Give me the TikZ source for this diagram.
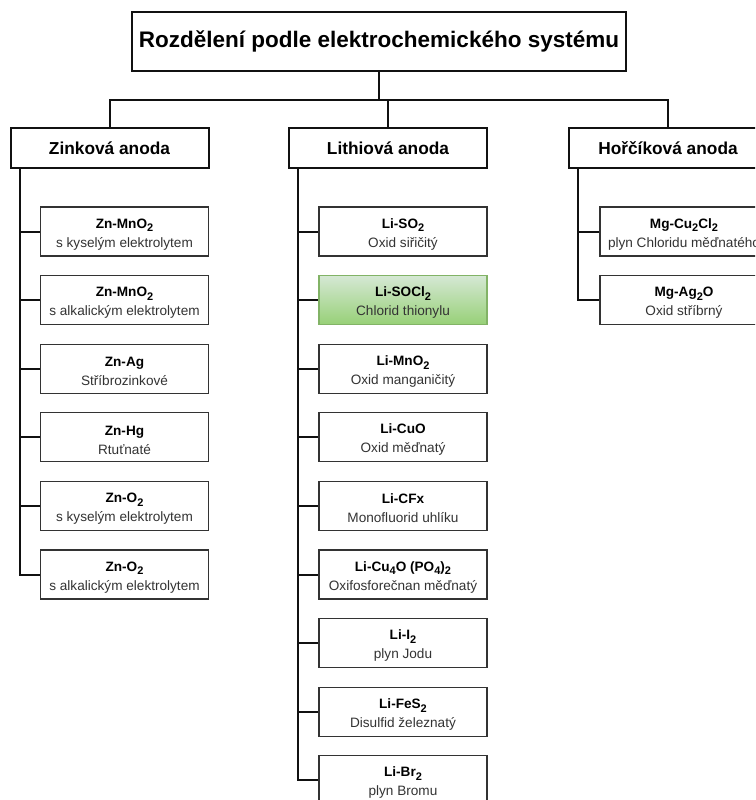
\documentclass[tikz,border=0pt]{standalone}
\usepackage{fontspec}
\setmainfont{Liberation Sans}
\definecolor{ink}{HTML}{111111}
\definecolor{boxline}{HTML}{333333}
\definecolor{desc}{HTML}{333333}
\definecolor{greentop}{HTML}{D5E8D4}
\definecolor{greenbot}{HTML}{97D077}
\definecolor{greenline}{HTML}{82B366}
% bold formula line (with a strut that sets the first line lower) and grey description
\newcommand\hd[1]{\rule{0pt}{15pt}\textbf{#1}}
\newcommand\desc[1]{{\color{desc}#1}}
\newcommand\sub[1]{\raisebox{-0.28em}{\fontsize{11}{11}\selectfont #1}}
\begin{document}
\begin{tikzpicture}[x=1pt,y=-1pt,
  titlebox/.style={draw=ink,line width=2pt,fill=white,minimum width=494pt,minimum height=59pt,inner sep=0pt,
    font=\fontsize{22.5}{26}\selectfont\bfseries},
  headbox/.style={draw=ink,line width=2pt,fill=white,minimum width=198pt,minimum height=40pt,inner sep=0pt,
    font=\fontsize{17.3}{20}\selectfont\bfseries},
  leaf/.style={draw=boxline,line width=1.3pt,fill=white,minimum width=168pt,minimum height=49pt,inner sep=0pt,
    align=center,font=\fontsize{13.6}{19}\selectfont},
  greenleaf/.style={leaf,draw=greenline,top color=greentop,bottom color=greenbot},
  conn/.style={draw=ink,line width=2pt}]
\useasboundingbox (0,0) rectangle (755,800);
\clip (0,0) rectangle (755,800);

% root and the three anode groups
\node[titlebox] (title) at (379,41.5) {Rozdělení podle elektrochemického systému};
\node[headbox] (zn) at (109.5,148) {Zinková anoda};
\node[headbox] (li) at (388,148) {Lithiová anoda};
\node[headbox] (mg) at (668,148) {Hořčíková anoda};

\coordinate (bus) at (379,100);
\draw[conn] (title.south) -- (bus);
\draw[conn] (zn.north) |- (bus) -| (mg.north);
\draw[conn] (li.north) -- (li.north |- bus);

% zinc anode systems
\node[leaf] (z1) at (124.5,231.5) {\hd{Zn-MnO\sub{2}}\\\desc{s kyselým elektrolytem}};
\node[leaf] (z2) at (124.5,300.1) {\hd{Zn-MnO\sub{2}}\\\desc{s alkalickým elektrolytem}};
\node[leaf] (z3) at (124.5,368.7) {\hd{Zn-Ag}\\\desc{Stříbrozinkové}};
\node[leaf] (z4) at (124.5,437.3) {\hd{Zn-Hg}\\\desc{Rtuťnaté}};
\node[leaf] (z5) at (124.5,505.9) {\hd{Zn-O\sub{2}}\\\desc{s kyselým elektrolytem}};
\node[leaf] (z6) at (124.5,574.5) {\hd{Zn-O\sub{2}}\\\desc{s alkalickým elektrolytem}};

% lithium anode systems
\node[leaf] (l1) at (403,231.5) {\hd{Li-SO\sub{2}}\\\desc{Oxid siřičitý}};
\node[greenleaf] (l2) at (403,300.1) {\hd{Li-SOCl\sub{2}}\\\desc{Chlorid thionylu}};
\node[leaf] (l3) at (403,368.7) {\hd{Li-MnO\sub{2}}\\\desc{Oxid manganičitý}};
\node[leaf] (l4) at (403,437.3) {\hd{Li-CuO}\\\desc{Oxid měďnatý}};
\node[leaf] (l5) at (403,505.9) {\hd{Li-CFx}\\\desc{Monofluorid uhlíku}};
\node[leaf] (l6) at (403,574.5) {\hd{Li-Cu\sub{4}O (PO\sub{4})\sub{2}}\\\desc{Oxifosforečnan měďnatý}};
\node[leaf] (l7) at (403,643.1) {\hd{Li-I\sub{2}}\\\desc{plyn Jodu}};
\node[leaf] (l8) at (403,711.7) {\hd{Li-FeS\sub{2}}\\\desc{Disulfid železnatý}};
\node[leaf] (l9) at (403,780.3) {\hd{Li-Br\sub{2}}\\\desc{plyn Bromu}};

% magnesium anode systems
\node[leaf] (m1) at (684,231.5) {\hd{Mg-Cu\sub{2}Cl\sub{2}}\\\desc{plyn Chloridu měďnatého}};
\node[leaf] (m2) at (684,300.1) {\hd{Mg-Ag\sub{2}O}\\\desc{Oxid stříbrný}};

% branch lines from each group box to its systems
\foreach \i in {1,...,6} \draw[conn] ([xshift=10pt]zn.south west) |- (z\i.west);
\foreach \i in {1,...,9} \draw[conn] ([xshift=10pt]li.south west) |- (l\i.west);
\foreach \i in {1,2} \draw[conn] ([xshift=10pt]mg.south west) |- (m\i.west);
\end{tikzpicture}
\end{document}
